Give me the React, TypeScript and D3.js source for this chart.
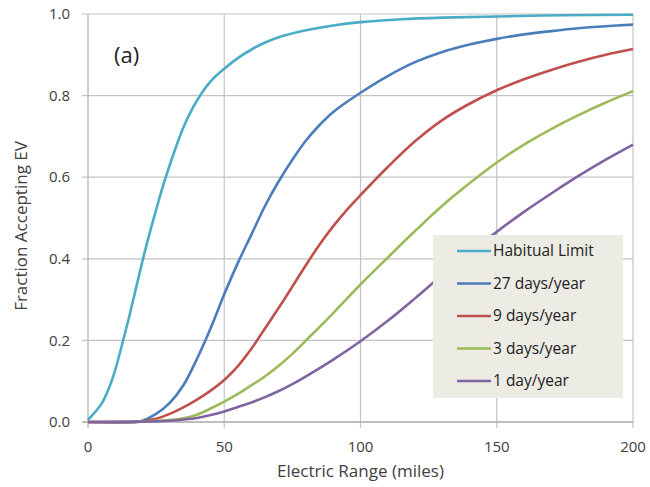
import { useEffect, useRef } from "react";
import * as d3 from "d3";

const seriesNames = ["Habitual Limit", "27 days/year", "9 days/year", "3 days/year", "1 day/year"];
const seriesColors = ["#4bacc6", "#4a7ebb", "#c0504d", "#9bbb59", "#8064a2"];

const habitualX = [0, 5, 7.5, 10, 12.5, 15, 17.5, 20, 22.5, 25, 27.5, 30, 35, 40, 45, 50, 55, 60, 65, 70, 80, 90, 100, 115, 130, 150, 175, 200];
const habitualY = [0.005, 0.045, 0.08, 0.128, 0.19, 0.255, 0.325, 0.395, 0.46, 0.52, 0.578, 0.63, 0.722, 0.788, 0.835, 0.866, 0.892, 0.913, 0.93, 0.943, 0.96, 0.972, 0.98, 0.987, 0.991, 0.994, 0.997, 0.998];

const days27X = [0, 18, 20, 25, 30, 35, 40, 45, 50, 55, 60, 65, 70, 75, 80, 85, 90, 100, 110, 120, 130, 140, 150, 160, 170, 180, 190, 200];
const days27Y = [0, 0, 0.003, 0.02, 0.047, 0.09, 0.155, 0.23, 0.313, 0.39, 0.46, 0.53, 0.59, 0.643, 0.69, 0.728, 0.76, 0.807, 0.848, 0.882, 0.907, 0.925, 0.939, 0.95, 0.958, 0.965, 0.97, 0.974];

const days9X = [0, 15, 20, 25, 30, 35, 40, 45, 50, 55, 60, 65, 70, 75, 80, 85, 90, 95, 100, 110, 120, 130, 140, 150, 160, 170, 180, 190, 200];
const days9Y = [0, 0, 0.002, 0.008, 0.02, 0.036, 0.055, 0.077, 0.103, 0.137, 0.18, 0.23, 0.28, 0.332, 0.385, 0.435, 0.48, 0.52, 0.556, 0.625, 0.688, 0.74, 0.78, 0.813, 0.84, 0.863, 0.883, 0.9, 0.914];

const days3X = [0, 20, 25, 30, 35, 40, 45, 50, 55, 60, 65, 70, 75, 80, 90, 100, 110, 120, 130, 140, 150, 160, 170, 180, 190, 200];
const days3Y = [0, 0.001, 0.003, 0.005, 0.009, 0.018, 0.033, 0.05, 0.069, 0.09, 0.112, 0.138, 0.167, 0.2, 0.267, 0.337, 0.403, 0.468, 0.53, 0.585, 0.636, 0.68, 0.718, 0.752, 0.783, 0.811];

const day1X = [0, 20, 30, 35, 40, 45, 50, 55, 60, 65, 70, 75, 80, 90, 100, 110, 120, 130, 140, 150, 160, 170, 180, 190, 200];
const day1Y = [0, 0.001, 0.003, 0.006, 0.01, 0.017, 0.026, 0.037, 0.048, 0.061, 0.076, 0.093, 0.112, 0.153, 0.198, 0.248, 0.303, 0.36, 0.414, 0.466, 0.515, 0.56, 0.603, 0.643, 0.68];

const xTicks = [0, 50, 100, 150, 200];
const yTicks = [0, 0.2, 0.4, 0.6, 0.8, 1.0];

type Pt = { x: number; y: number };

export default function App() {
  const svgRef = useRef<SVGSVGElement | null>(null);

  useEffect(() => {
    const svg = d3.select(svgRef.current);
    svg.selectAll("*").remove();

    const W = 650;
    const H = 487;
    const margin = { top: 14, right: 17, bottom: 65, left: 88 };
    const w = W - margin.left - margin.right;
    const h = H - margin.top - margin.bottom;
    const font = "'Open Sans', 'Liberation Sans', sans-serif";
    const textColor = "#404040";

    svg.attr("viewBox", `0 0 ${W} ${H}`);
    svg.append("rect").attr("width", W).attr("height", H).attr("fill", "#ffffff");

    const g = svg.append("g").attr("transform", `translate(${margin.left},${margin.top})`);

    const x = d3.scaleLinear().domain([0, 200]).range([0, w]);
    const y = d3.scaleLinear().domain([0, 1]).range([h, 0]);

    // grid
    g.append("g")
      .selectAll("line")
      .data(yTicks.filter((t) => t > 0))
      .join("line")
      .attr("x1", -6)
      .attr("x2", w)
      .attr("y1", (d) => y(d))
      .attr("y2", (d) => y(d))
      .attr("stroke", "#c4c4c4")
      .attr("stroke-width", 1.2);
    g.append("g")
      .selectAll("line")
      .data(xTicks)
      .join("line")
      .attr("x1", (d) => x(d))
      .attr("x2", (d) => x(d))
      .attr("y1", 0)
      .attr("y2", h + 6)
      .attr("stroke", (d) => (d === 0 ? "#b0b0b0" : "#c4c4c4"))
      .attr("stroke-width", 1.2);

    // baseline
    g.append("line")
      .attr("x1", -6)
      .attr("x2", w)
      .attr("y1", h)
      .attr("y2", h)
      .attr("stroke", "#a8a8a8")
      .attr("stroke-width", 1.4);

    // tick labels
    g.append("g")
      .selectAll("text")
      .data(yTicks)
      .join("text")
      .attr("x", -18)
      .attr("y", (d) => y(d))
      .attr("dy", "0.35em")
      .attr("text-anchor", "end")
      .attr("font-family", font)
      .attr("font-size", 15)
      .attr("fill", textColor)
      .text((d) => d.toFixed(1));
    g.append("g")
      .selectAll("text")
      .data(xTicks)
      .join("text")
      .attr("x", (d) => x(d))
      .attr("y", h + 30)
      .attr("text-anchor", "middle")
      .attr("font-family", font)
      .attr("font-size", 15)
      .attr("fill", textColor)
      .text((d) => String(d));

    // axis titles
    svg.append("text")
      .attr("x", margin.left + w / 2)
      .attr("y", 477)
      .attr("text-anchor", "middle")
      .attr("font-family", font)
      .attr("font-size", 17)
      .attr("fill", textColor)
      .text("Electric Range (miles)");
    svg.append("text")
      .attr("transform", `translate(27,${margin.top + h / 2 + 8}) rotate(-90)`)
      .attr("text-anchor", "middle")
      .attr("font-family", font)
      .attr("font-size", 17)
      .attr("fill", textColor)
      .text("Fraction Accepting EV");

    svg.append("text")
      .attr("x", 114)
      .attr("y", 63)
      .attr("text-anchor", "start")
      .attr("font-family", font)
      .attr("font-size", 22)
      .attr("fill", "#222")
      .text("(a)");

    const xs = [habitualX, days27X, days9X, days3X, day1X];
    const ys = [habitualY, days27Y, days9Y, days3Y, day1Y];
    const series: Pt[][] = xs.map((arr, i) => arr.map((v, j) => ({ x: v, y: ys[i][j] })));

    const line = d3
      .line<Pt>()
      .x((p) => x(p.x))
      .y((p) => y(p.y))
      .curve(d3.curveCatmullRom.alpha(0.5));

    g.append("g")
      .selectAll("path")
      .data(series)
      .join("path")
      .attr("d", (d) => line(d))
      .attr("fill", "none")
      .attr("stroke", (_, i) => seriesColors[i])
      .attr("stroke-width", 2.6);

    // legend
    const lg = svg.append("g").attr("transform", "translate(433,235)");
    lg.append("rect").attr("width", 190).attr("height", 163).attr("fill", "#ecebe4");
    const items = lg
      .selectAll("g")
      .data(seriesNames)
      .join("g")
      .attr("transform", (_, i) => `translate(0,${16 + i * 32.5})`);
    items
      .append("line")
      .attr("x1", 24)
      .attr("x2", 58)
      .attr("stroke", (_, i) => seriesColors[i])
      .attr("stroke-width", 2.6);
    items
      .append("text")
      .attr("x", 60)
      .attr("dy", "0.35em")
      .attr("font-family", font)
      .attr("font-size", 15.5)
      .attr("fill", "#222")
      .text((d) => d);
  }, []);

  return <svg ref={svgRef} width={650} height={487} style={{ display: "block", position: "absolute", left: 0, top: 0 }} />;
}
